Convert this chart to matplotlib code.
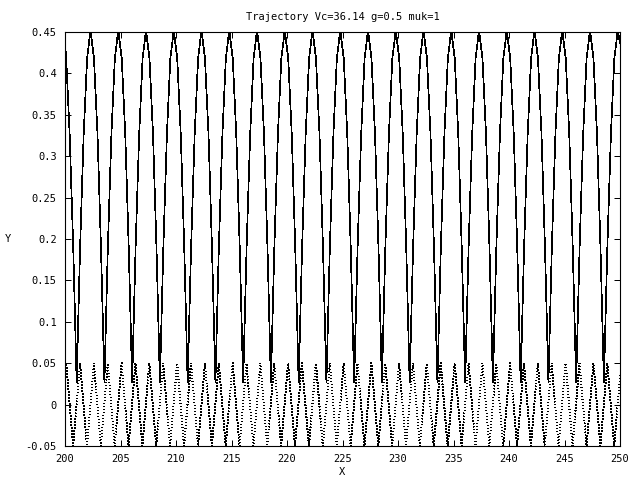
import matplotlib
matplotlib.use('Agg')
import matplotlib.pyplot as plt

# solid trajectory, one row per bounce (trough, rising arm, peak, falling arm)
solid_x = [200.0, 200.11, 200.42, 200.74,
           201.05, 201.36, 201.68, 201.99, 202.3, 202.61, 202.93, 203.24,
           203.55, 203.86, 204.18, 204.49, 204.8, 205.11, 205.43, 205.74,
           206.05, 206.36, 206.68, 206.99, 207.3, 207.61, 207.93, 208.24,
           208.55, 208.86, 209.18, 209.49, 209.8, 210.11, 210.43, 210.74,
           211.05, 211.36, 211.68, 211.99, 212.3, 212.61, 212.93, 213.24,
           213.55, 213.86, 214.18, 214.49, 214.8, 215.11, 215.43, 215.74,
           216.05, 216.36, 216.68, 216.99, 217.3, 217.61, 217.93, 218.24,
           218.55, 218.86, 219.18, 219.49, 219.8, 220.11, 220.43, 220.74,
           221.05, 221.36, 221.68, 221.99, 222.3, 222.61, 222.93, 223.24,
           223.55, 223.86, 224.18, 224.49, 224.8, 225.11, 225.43, 225.74,
           226.05, 226.36, 226.68, 226.99, 227.3, 227.61, 227.93, 228.24,
           228.55, 228.86, 229.18, 229.49, 229.8, 230.11, 230.43, 230.74,
           231.05, 231.36, 231.68, 231.99, 232.3, 232.61, 232.93, 233.24,
           233.55, 233.86, 234.18, 234.49, 234.8, 235.11, 235.43, 235.74,
           236.05, 236.36, 236.68, 236.99, 237.3, 237.61, 237.93, 238.24,
           238.55, 238.86, 239.18, 239.49, 239.8, 240.11, 240.43, 240.74,
           241.05, 241.36, 241.68, 241.99, 242.3, 242.61, 242.93, 243.24,
           243.55, 243.86, 244.18, 244.49, 244.8, 245.11, 245.43, 245.74,
           246.05, 246.36, 246.68, 246.99, 247.3, 247.61, 247.93, 248.24,
           248.55, 248.86, 249.18, 249.49, 249.8, 250.0]
solid_y = [0.436, 0.418, 0.326, 0.19,
           0.027, 0.19, 0.326, 0.418, 0.452, 0.418, 0.326, 0.19,
           0.027, 0.19, 0.326, 0.418, 0.452, 0.418, 0.326, 0.19,
           0.027, 0.19, 0.326, 0.418, 0.452, 0.418, 0.326, 0.19,
           0.027, 0.19, 0.326, 0.418, 0.452, 0.418, 0.326, 0.19,
           0.027, 0.19, 0.326, 0.418, 0.452, 0.418, 0.326, 0.19,
           0.027, 0.19, 0.326, 0.418, 0.452, 0.418, 0.326, 0.19,
           0.027, 0.19, 0.326, 0.418, 0.452, 0.418, 0.326, 0.19,
           0.027, 0.19, 0.326, 0.418, 0.452, 0.418, 0.326, 0.19,
           0.027, 0.19, 0.326, 0.418, 0.452, 0.418, 0.326, 0.19,
           0.027, 0.19, 0.326, 0.418, 0.452, 0.418, 0.326, 0.19,
           0.027, 0.19, 0.326, 0.418, 0.452, 0.418, 0.326, 0.19,
           0.027, 0.19, 0.326, 0.418, 0.452, 0.418, 0.326, 0.19,
           0.027, 0.19, 0.326, 0.418, 0.452, 0.418, 0.326, 0.19,
           0.027, 0.19, 0.326, 0.418, 0.452, 0.418, 0.326, 0.19,
           0.027, 0.19, 0.326, 0.418, 0.452, 0.418, 0.326, 0.19,
           0.027, 0.19, 0.326, 0.418, 0.452, 0.418, 0.326, 0.19,
           0.027, 0.19, 0.326, 0.418, 0.452, 0.418, 0.326, 0.19,
           0.027, 0.19, 0.326, 0.418, 0.452, 0.418, 0.326, 0.19,
           0.027, 0.19, 0.326, 0.418, 0.452, 0.418, 0.326, 0.19,
           0.027, 0.19, 0.326, 0.418, 0.452, 0.437]

# dotted curve: start, peak/trough turning points, end
dot_x = [200.0,
         200.1, 200.725, 201.35, 201.975, 202.6, 203.225, 203.85, 204.475,
         205.1, 205.725, 206.35, 206.975, 207.6, 208.225, 208.85, 209.475,
         210.1, 210.725, 211.35, 211.975, 212.6, 213.225, 213.85, 214.475,
         215.1, 215.725, 216.35, 216.975, 217.6, 218.225, 218.85, 219.475,
         220.1, 220.725, 221.35, 221.975, 222.6, 223.225, 223.85, 224.475,
         225.1, 225.725, 226.35, 226.975, 227.6, 228.225, 228.85, 229.475,
         230.1, 230.725, 231.35, 231.975, 232.6, 233.225, 233.85, 234.475,
         235.1, 235.725, 236.35, 236.975, 237.6, 238.225, 238.85, 239.475,
         240.1, 240.725, 241.35, 241.975, 242.6, 243.225, 243.85, 244.475,
         245.1, 245.725, 246.35, 246.975, 247.6, 248.225, 248.85, 249.475,
         250.0]
dot_y = [0.045,
         0.05, -0.05, 0.05, -0.05, 0.05, -0.05, 0.05, -0.05,
         0.05, -0.05, 0.05, -0.05, 0.05, -0.05, 0.05, -0.05,
         0.05, -0.05, 0.05, -0.05, 0.05, -0.05, 0.05, -0.05,
         0.05, -0.05, 0.05, -0.05, 0.05, -0.05, 0.05, -0.05,
         0.05, -0.05, 0.05, -0.05, 0.05, -0.05, 0.05, -0.05,
         0.05, -0.05, 0.05, -0.05, 0.05, -0.05, 0.05, -0.05,
         0.05, -0.05, 0.05, -0.05, 0.05, -0.05, 0.05, -0.05,
         0.05, -0.05, 0.05, -0.05, 0.05, -0.05, 0.05, -0.05,
         0.05, -0.05, 0.05, -0.05, 0.05, -0.05, 0.05, -0.05,
         0.05, -0.05, 0.05, -0.05, 0.05, -0.05, 0.05, -0.05,
         0.035]

x_ticks = [200, 205, 210, 215, 220, 225, 230, 235, 240, 245, 250]
y_ticks = [-0.05, 0, 0.05, 0.1, 0.15, 0.2, 0.25, 0.3, 0.35, 0.4, 0.45]
y_labels = ['-0.05', '0', '0.05', '0.1', '0.15', '0.2', '0.25', '0.3', '0.35', '0.4', '0.45']

plt.rcParams['font.family'] = 'DejaVu Sans Mono'
plt.rcParams['font.size'] = 7.5

fig = plt.figure(figsize=(6.4, 4.8), dpi=100)
ax = fig.add_axes([65/640, 34/480, 555/640, 414/480])

ax.plot(solid_x, solid_y, color='black', lw=0.5, antialiased=False)
ax.plot(dot_x, dot_y, color='black', lw=0.5, linestyle=(0, (1, 3.5)), antialiased=False)

ax.set_xlim(200, 250)
ax.set_ylim(-0.05, 0.45)
ax.set_xticks(x_ticks)
ax.set_yticks(y_ticks)
ax.set_yticklabels(y_labels)
ax.tick_params(direction='in', length=4.5, width=0.72, top=True, right=True, pad=6)
for s in ax.spines.values():
    s.set_linewidth(0.8)

ax.set_title('Trajectory Vc=36.14 g=0.5 muk=1', pad=9, fontsize=7.5)
ax.set_xlabel('X', labelpad=2)
fig.text(8/640, 1 - 239/480, 'Y', ha='center', va='center')

fig.savefig('out.png', dpi=100)
